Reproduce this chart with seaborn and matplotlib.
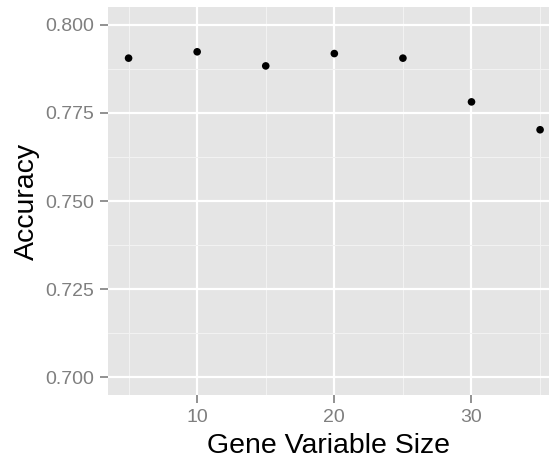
import pandas as pd
import matplotlib.pyplot as plt
import seaborn as sns

# --- Data ---
gene_size = [5, 10, 15, 20, 25, 30, 35]
accuracy = [0.7905, 0.7923, 0.7883, 0.7918, 0.7905, 0.7781, 0.7702]

y_ticks = [0.700, 0.725, 0.750, 0.775, 0.800]
y_tick_labels = ["0.700", "0.725", "0.750", "0.775", "0.800"]
x_ticks = [10, 20, 30]
x_tick_labels = ["10", "20", "30"]

df = pd.DataFrame({"Gene Variable Size": gene_size, "Accuracy": accuracy})

sns.set_theme(style="darkgrid", rc={"axes.facecolor": "#E5E5E5"})
plt.rcParams["font.family"] = ["Liberation Sans", "DejaVu Sans"]

fig = plt.figure(figsize=(5.49, 4.63), dpi=100)
ax = fig.add_axes([108 / 549, 68 / 463, 1 - 108 / 549, (395 - 7) / 463])

sns.scatterplot(data=df, x="Gene Variable Size", y="Accuracy", ax=ax,
                color="black", s=30, edgecolor="none", zorder=3)

ax.set_xlim(3.5, 35.65)
ax.set_ylim(0.695, 0.805)
ax.set_xticks(x_ticks)
ax.set_xticklabels(x_tick_labels)
ax.set_yticks(y_ticks)
ax.set_yticklabels(y_tick_labels)
ax.set_xticks([5, 15, 25, 35], minor=True)
ax.set_yticks([0.7125, 0.7375, 0.7625, 0.7875], minor=True)

ax.grid(which="major", color="white", linewidth=1.6)
ax.grid(which="minor", color="#F2F2F2", linewidth=0.8)
ax.set_axisbelow(True)
for s in ax.spines.values():
    s.set_visible(False)

ax.tick_params(which="major", axis="both", length=5.8, width=1.2, color="#7F7F7F",
               labelcolor="#7F7F7F", labelsize=14, pad=4.3, left=True, bottom=True)
ax.tick_params(which="minor", length=0)

ax.set_xlabel("Gene Variable Size", fontsize=20.5, color="black", labelpad=5)
ax.set_ylabel("Accuracy", fontsize=20.5, color="black", labelpad=4)

fig.savefig("out.png", dpi=100)
